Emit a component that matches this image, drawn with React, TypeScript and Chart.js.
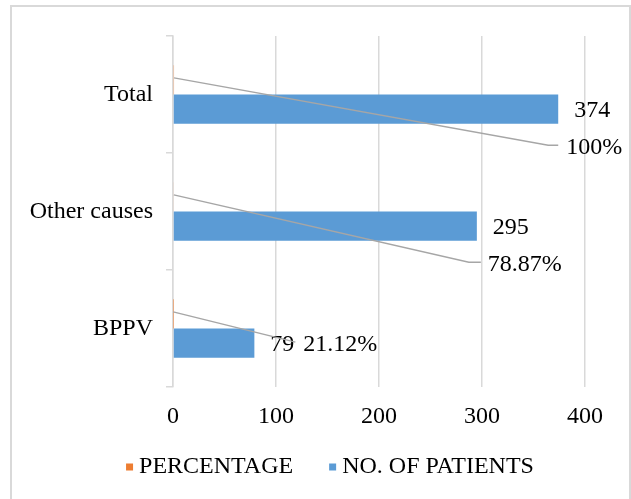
import React, { useEffect, useRef } from 'react';
import { Chart, registerables } from 'chart.js';

Chart.register(...registerables);

// ---- data ----
const categories = ['Total', 'Other causes', 'BPPV'];
const patients = [374, 295, 79];
const percentages = [100, 78.87, 21.12];
const xTicks = [0, 100, 200, 300, 400];
const seriesNames = ['PERCENTAGE', 'NO. OF PATIENTS'];
const seriesColors = ['#ED7D31', '#5B9BD5'];

// ---- label placement (style, not data) ----
const pctLabelLayout = [
  { dx: 8, dy: 39, elbowDx: -10, elbowDy: 36, endDx: 0 },
  { dx: 11, dy: 39, elbowDx: -8, elbowDy: 36, endDx: 4 },
  { dx: 49, dy: 2, elbowDx: 41, elbowDy: -1, endDx: 41 },
];

const FONT_FAMILY = "'Liberation Serif', 'Times New Roman', serif";
const FONT_SIZE = 24;

const framePlugin = {
  id: 'frame',
  beforeDraw(chart: any) {
    const ctx = chart.ctx;
    ctx.save();
    ctx.fillStyle = '#ffffff';
    ctx.fillRect(0, 0, chart.width, chart.height);
    ctx.strokeStyle = '#d9d9d9';
    ctx.lineWidth = 2;
    ctx.strokeRect(11, 6, 619, 600);
    ctx.restore();
  },
};

const labelPlugin = {
  id: 'labels',
  afterDatasetsDraw(chart: any) {
    const ctx = chart.ctx;
    const pctMeta = chart.getDatasetMeta(0);
    const patMeta = chart.getDatasetMeta(1);
    ctx.save();
    ctx.font = `${FONT_SIZE}px ${FONT_FAMILY}`;
    ctx.textBaseline = 'middle';
    ctx.textAlign = 'left';
    patMeta.data.forEach((bar: any, i: number) => {
      const xEnd = bar.x;
      const yc = bar.y;
      // patients label
      ctx.fillStyle = '#000';
      ctx.fillText(String(patients[i]), xEnd + 16, yc + 2);
      // percentage leader + label
      const L = pctLabelLayout[i];
      const p = pctMeta.data[i];
      ctx.strokeStyle = '#a6a6a6';
      ctx.lineWidth = 1.5;
      ctx.beginPath();
      ctx.moveTo(p.x, p.y - 2);
      ctx.lineTo(xEnd + L.elbowDx, yc + L.elbowDy);
      ctx.lineTo(xEnd + L.endDx, yc + L.elbowDy);
      ctx.stroke();
      ctx.fillStyle = '#000';
      ctx.fillText(percentages[i].toFixed(percentages[i] % 1 === 0 ? 0 : 2) + '%', xEnd + L.dx, yc + L.dy);
    });
    ctx.restore();
  },
};

const legendPlugin = {
  id: 'customLegend',
  afterDraw(chart: any) {
    const ctx = chart.ctx;
    ctx.save();
    ctx.font = `${FONT_SIZE}px ${FONT_FAMILY}`;
    ctx.textBaseline = 'middle';
    ctx.textAlign = 'left';
    const box = 7;
    const gap = 6;
    const spacing = 36;
    const widths = seriesNames.map((n) => ctx.measureText(n).width);
    const total = widths.reduce((a, w) => a + box + gap + w, 0) + spacing * (seriesNames.length - 1);
    let x = 330 - total / 2;
    const y = 467;
    seriesNames.forEach((name, i) => {
      ctx.fillStyle = seriesColors[i];
      ctx.fillRect(x, y - box / 2, box, box);
      ctx.fillStyle = '#000';
      ctx.fillText(name, x + box + gap, y);
      x += box + gap + widths[i] + spacing;
    });
    ctx.restore();
  },
};

export default function App() {
  const ref = useRef<HTMLCanvasElement | null>(null);

  useEffect(() => {
    if (!ref.current) return;
    const font = { family: FONT_FAMILY, size: FONT_SIZE };
    const chart = new Chart(ref.current, {
      type: 'bar',
      data: {
        labels: categories,
        datasets: [
          {
            label: seriesNames[0],
            data: percentages.map((p) => p / 100),
            backgroundColor: seriesColors[0],
            categoryPercentage: 0.5,
            barPercentage: 1,
          },
          {
            label: seriesNames[1],
            data: patients,
            backgroundColor: seriesColors[1],
            categoryPercentage: 0.5,
            barPercentage: 1,
          },
        ],
      },
      options: {
        indexAxis: 'y',
        responsive: false,
        animation: false,
        devicePixelRatio: 1,
        layout: { padding: { top: 36, right: 46, left: 0, bottom: 0 } },
        plugins: {
          legend: { display: false },
          tooltip: { enabled: false },
        },
        scales: {
          x: {
            min: 0,
            max: 400,
            afterBuildTicks: (scale: any) => {
              scale.ticks = xTicks.map((v) => ({ value: v }));
            },
            afterFit: (scale: any) => {
              scale.height = 112;
            },
            grid: { color: '#d9d9d9', lineWidth: 1.5, drawTicks: false },
            border: { display: false },
            ticks: { padding: 15, font, color: '#000' },
          },
          y: {
            afterFit: (scale: any) => {
              scale.width = 173;
            },
            grid: { drawOnChartArea: false, tickLength: 7, color: '#d9d9d9', lineWidth: 1.5, offset: true },
            border: { color: '#d9d9d9', width: 1.5 },
            ticks: { padding: 13, font, color: '#000' },
          },
        },
      } as any,
      plugins: [framePlugin, labelPlugin, legendPlugin],
    });
    return () => chart.destroy();
  }, []);

  return (
    <div style={{ position: 'fixed', left: 0, top: 0, width: 631, height: 499, background: '#fff' }}>
      <canvas ref={ref} width={631} height={499} style={{ width: 631, height: 499, display: 'block' }} />
    </div>
  );
}
